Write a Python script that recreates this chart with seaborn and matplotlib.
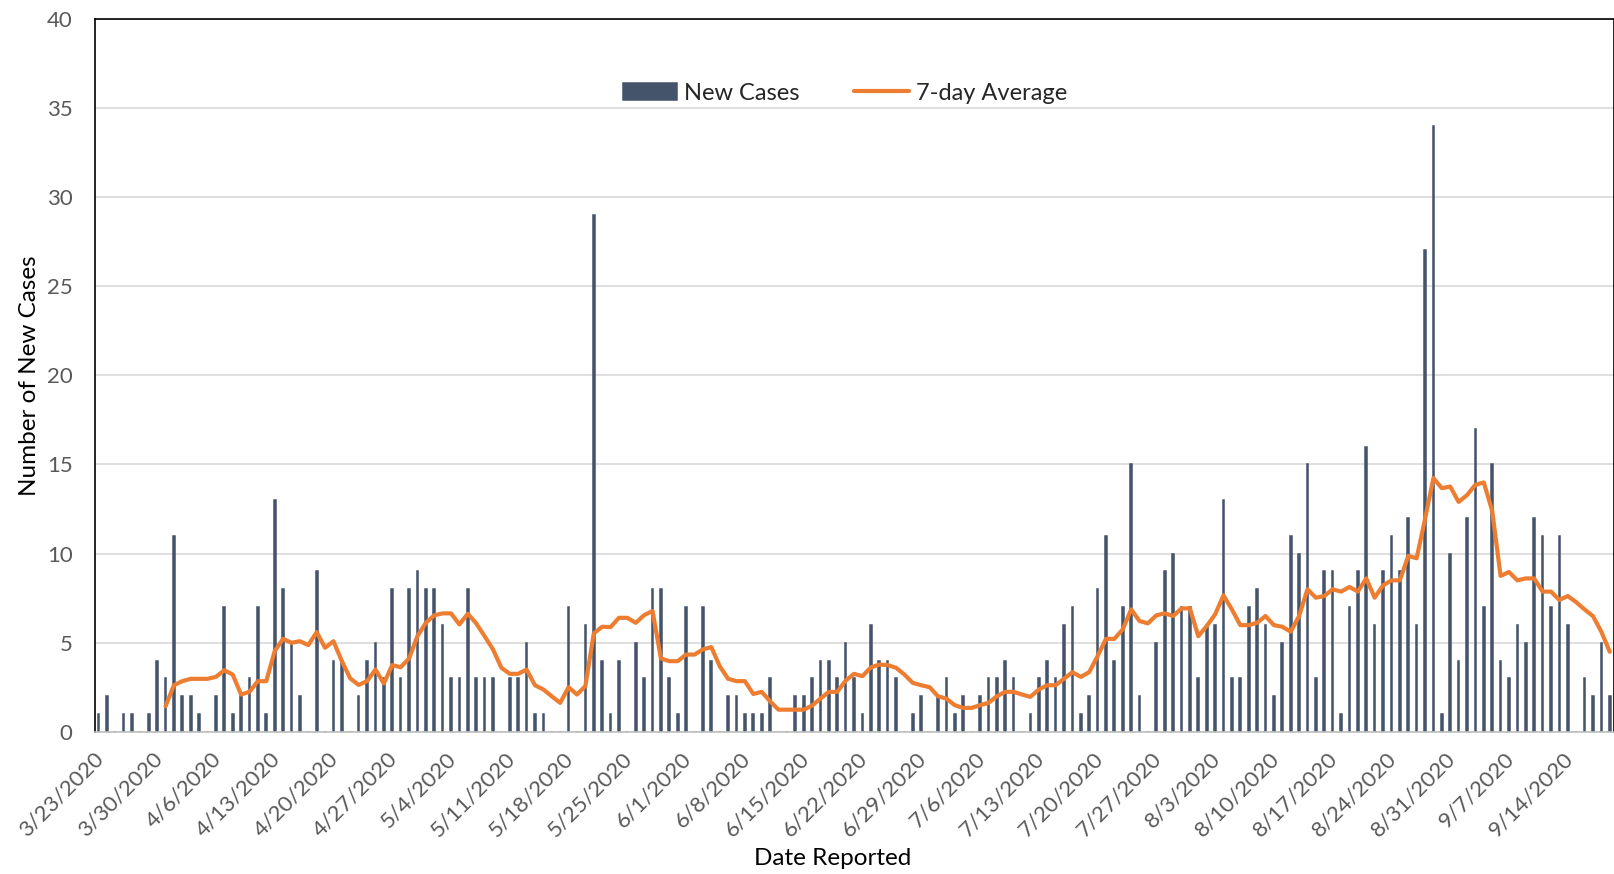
import pandas as pd
import seaborn as sns
import matplotlib.pyplot as plt
from matplotlib.transforms import ScaledTranslation

# daily new cases, 3/23/2020 .. 9/19/2020
new_cases = [1, 2, 0, 1, 1, 0, 1, 4, 3, 11,
             2, 2, 1, 0, 2, 7, 1, 2, 3, 7,
             1, 13, 8, 5, 2, 0, 9, 0, 4, 4,
             0, 2, 4, 5, 3, 8, 3, 8, 9, 8,
             8, 6, 3, 3, 8, 3, 3, 3, 0, 3,
             3, 5, 1, 1, 0, 0, 7, 0, 6, 29,
             4, 1, 4, 0, 5, 3, 8, 8, 3, 1,
             7, 0, 7, 4, 0, 2, 2, 1, 1, 1,
             3, 0, 0, 2, 2, 3, 4, 4, 3, 5,
             3, 1, 6, 4, 4, 3, 0, 1, 2, 0,
             2, 3, 1, 2, 0, 2, 3, 3, 4, 3,
             0, 1, 3, 4, 3, 6, 7, 1, 2, 8,
             11, 4, 7, 15, 2, 0, 5, 9, 10, 7,
             7, 3, 6, 6, 13, 3, 3, 7, 8, 6,
             2, 5, 11, 10, 15, 3, 9, 9, 1, 7,
             9, 16, 6, 9, 11, 9, 12, 6, 27, 34,
             1, 10, 4, 12, 17, 7, 15, 4, 3, 6,
             5, 12, 11, 7, 11, 6, 0, 3, 2, 5, 2]

# 7-day average, drawn from 3/31/2020 onward
avg_start = 8
seven_day_avg = [1.44, 2.62,
                 2.85, 2.98, 2.98, 2.98, 3.09, 3.46, 3.22, 2.10, 2.25, 2.85,
                 2.85, 4.53, 5.22, 5.0, 5.09, 4.87, 5.6, 4.72, 5.09, 3.97,
                 3.0, 2.64, 2.85, 3.5, 2.72, 3.75, 3.63, 4.12, 5.37, 6.12,
                 6.54, 6.65, 6.65, 6.03, 6.63, 6.09, 5.37, 4.63, 3.6, 3.26,
                 3.26, 3.5, 2.62, 2.38, 2.0, 1.63, 2.51, 2.1, 2.57, 5.52,
                 5.9, 5.88, 6.4, 6.4, 6.12, 6.55, 6.78, 4.12, 3.97, 3.97,
                 4.34, 4.34, 4.63, 4.76, 3.69, 2.98, 2.85, 2.85, 2.13, 2.25,
                 1.72, 1.25, 1.25, 1.25, 1.25, 1.48, 1.87, 2.25, 2.25, 2.88,
                 3.26, 3.13, 3.62, 3.78, 3.75, 3.6, 3.22, 2.75, 2.62, 2.51,
                 2.0, 1.87, 1.5, 1.35, 1.35, 1.5, 1.63, 2.0, 2.25, 2.25,
                 2.1, 1.97, 2.38, 2.62, 2.62, 2.98, 3.35, 3.09, 3.35, 4.25,
                 5.22, 5.22, 5.75, 6.87, 6.22, 6.09, 6.54, 6.65, 6.5, 6.93,
                 6.93, 5.37, 5.94, 6.59, 7.66, 6.87, 5.99, 5.99, 6.12, 6.5,
                 5.99, 5.9, 5.62, 6.5, 8.0, 7.53, 7.62, 8.0, 7.87, 8.13,
                 7.87, 8.61, 7.53, 8.22, 8.5, 8.5, 9.87, 9.74, 11.93, 14.23,
                 13.67, 13.76, 12.9, 13.28, 13.86, 13.99, 12.4, 8.75, 8.97, 8.5,
                 8.61, 8.61, 7.87, 7.87, 7.4, 7.62, 7.28, 6.87, 6.5, 5.62, 4.5]

tick_labels = ['3/23/2020', '3/30/2020', '4/6/2020', '4/13/2020', '4/20/2020',
               '4/27/2020', '5/4/2020', '5/11/2020', '5/18/2020', '5/25/2020',
               '6/1/2020', '6/8/2020', '6/15/2020', '6/22/2020', '6/29/2020',
               '7/6/2020', '7/13/2020', '7/20/2020', '7/27/2020', '8/3/2020',
               '8/10/2020', '8/17/2020', '8/24/2020', '8/31/2020', '9/7/2020',
               '9/14/2020']

bar_color = '#44546A'
line_color = '#ED7D31'
text_gray = '#595959'

sns.set_style('white')
plt.rcParams['font.family'] = ['Lato', 'DejaVu Sans']

bars_df = pd.DataFrame({'day': range(len(new_cases)), 'cases': new_cases})
avg_df = pd.DataFrame({'day': range(avg_start, avg_start + len(seven_day_avg)),
                       'avg': seven_day_avg})

fig = plt.figure(figsize=(16.14, 8.74), dpi=100)
ax = fig.add_axes([0.0587, 0.1625, 0.9410, 0.8163])

sns.barplot(data=bars_df, x='day', y='cases', native_scale=True, width=0.2,
            color=bar_color, saturation=1, edgecolor=bar_color, linewidth=1.1,
            ax=ax, label='New Cases', zorder=2)
sns.lineplot(data=avg_df, x='day', y='avg', color=line_color, linewidth=3,
             ax=ax, label='7-day Average', zorder=3)

ax.set_xlim(-0.43, 180.45)
ax.set_ylim(0, 40)
ax.set_yticks(range(0, 41, 5))
ax.yaxis.grid(True, color='#D9D9D9', linewidth=1.2, zorder=0)
ax.set_axisbelow(True)

ax.set_xticks(range(0, 7 * len(tick_labels), 7))
ax.set_xticklabels(tick_labels, rotation=45, ha='right', rotation_mode='anchor')
ax.tick_params(axis='both', length=0, labelsize=16, labelcolor=text_gray)
ax.tick_params(axis='x', pad=12)
ax.tick_params(axis='y', pad=16)
# nudge the date labels a little to the left, as in the original
shift = ScaledTranslation(-5 / 100, 0, fig.dpi_scale_trans)
for lbl in ax.get_xticklabels():
    lbl.set_transform(lbl.get_transform() + shift)

for side in ['left', 'top', 'right']:
    ax.spines[side].set_color('black')
    ax.spines[side].set_linewidth(1.2)
ax.spines['bottom'].set_color('#BFBFBF')
ax.spines['bottom'].set_linewidth(1.2)

ax.set_xlabel('Date Reported', fontsize=17.5, color='black')
ax.xaxis.set_label_coords(0.486, -0.163)
ax.set_ylabel('Number of New Cases', fontsize=17.5, color='black', labelpad=5)

handles, labels = ax.get_legend_handles_labels()
order = [labels.index('New Cases'), labels.index('7-day Average')]
ax.legend([handles[i] for i in order], [labels[i] for i in order],
          loc='upper center', bbox_to_anchor=(0.494, 0.94), ncol=2, frameon=False,
          fontsize=17, handlelength=2.3, handleheight=0.7, columnspacing=2.3,
          handletextpad=0.3)

fig.savefig('out.png', dpi=100)
